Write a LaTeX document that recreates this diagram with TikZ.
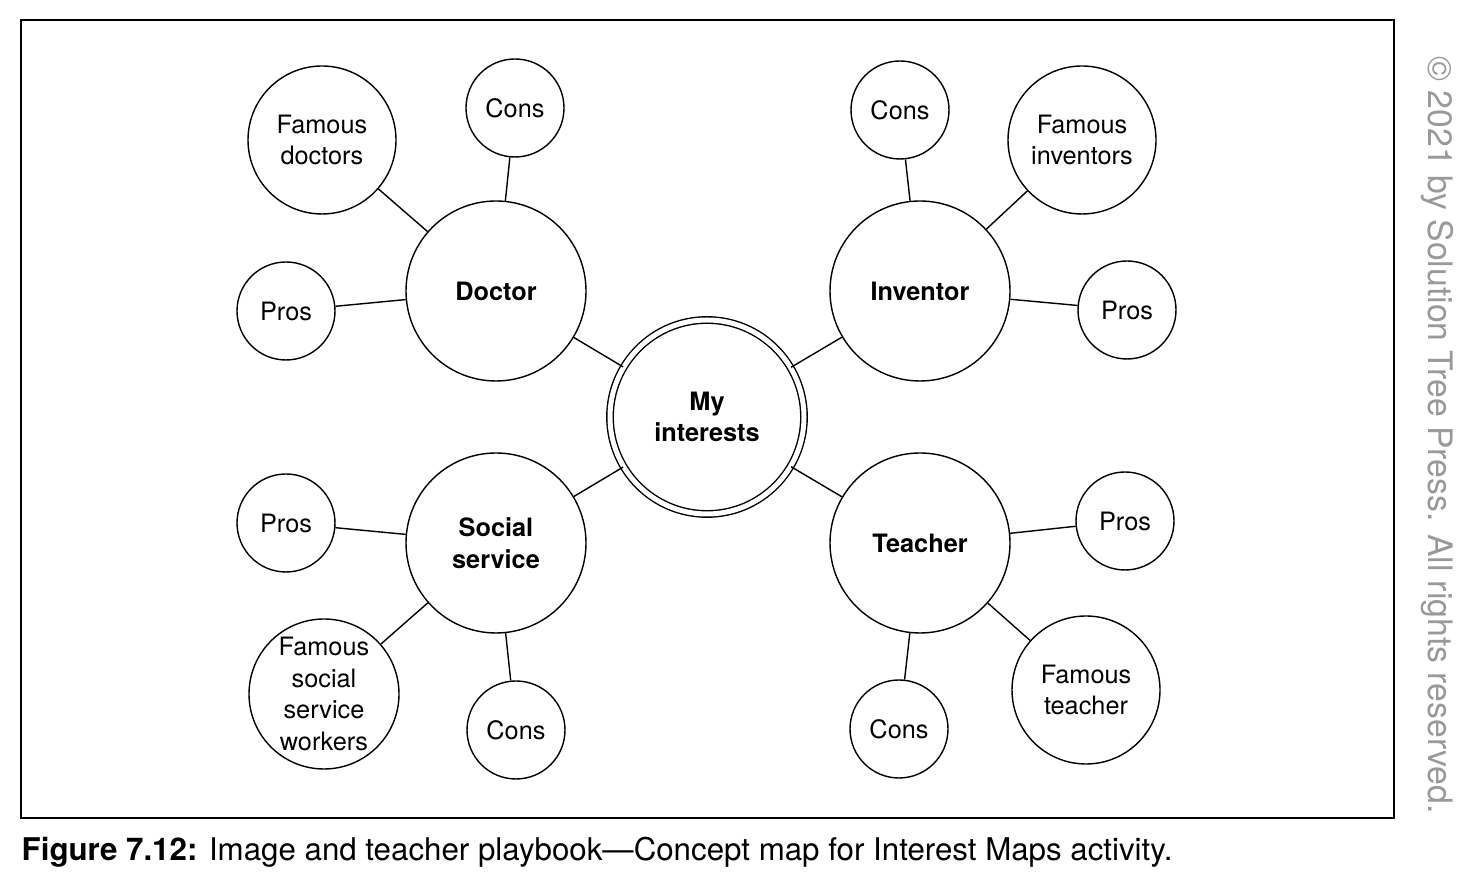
\documentclass[tikz,border=0pt]{standalone}
\usepackage{fontspec}
\setmainfont{TeX Gyre Heros}
\begin{document}
\begin{tikzpicture}[x=0.1mm,y=-0.1mm,
        topic/.style={circle, draw, minimum size=18mm, inner sep=0pt, align=center, font=\fontsize{7.2}{9}\selectfont\bfseries},
        leaf/.style={circle, draw, minimum size=9.8mm, inner sep=0pt, align=center, font=\fontsize{7.2}{9}\selectfont},
        famous/.style={leaf, minimum size=14.8mm}]
        \useasboundingbox (0,0) rectangle (1471,881);
        \draw (21,20) rectangle (1394,818);

        \node[circle, draw, double, double distance=0.5mm, minimum size=19.4mm, inner sep=0pt, align=center, font=\fontsize{7.2}{9}\selectfont\bfseries] (me) at (707,417) {My\\interests};

        \node[topic] (doc) at (496,291) {Doctor};
        \node[topic] (inv) at (920,291) {Inventor};
        \node[topic] (soc) at (496,543) {Social\\service};
        \node[topic] (tea) at (920,543) {Teacher};

        \node[famous] (docfam) at (322,140) {Famous\\doctors};
        \node[leaf] (doccon) at (515,108) {Cons};
        \node[leaf] (docpro) at (286,311) {Pros};

        \node[leaf] (invcon) at (900,110) {Cons};
        \node[famous] (invfam) at (1082,140) {Famous\\inventors};
        \node[leaf] (invpro) at (1127,310) {Pros};

        \node[leaf] (socpro) at (286,523) {Pros};
        \node[famous, minimum size=15mm] (socfam) at (324,694) {Famous\\social\\service\\workers};
        \node[leaf] (soccon) at (516,730) {Cons};

        \node[leaf] (teapro) at (1125,521) {Pros};
        \node[famous] (teafam) at (1086,690) {Famous\\teacher};
        \node[leaf] (teacon) at (899,729) {Cons};

        % spokes
        \foreach \t in {doc,inv,soc,tea}
            \draw (me) -- (\t);
        \foreach \t in {doc,inv,soc,tea} {
            \draw (\t) -- (\t fam);
            \draw (\t) -- (\t con);
            \draw (\t) -- (\t pro);
        }

        \node[anchor=south west, inner sep=0pt, font=\fontsize{8.9}{10}\selectfont] (cap) at (21,868)
            {\textbf{Figure 7.12:} Image and teacher playbook---Concept map for Interest Maps activity.};
        \node[rotate=-90, text=black!40, inner sep=0pt, font=\fontsize{9.6}{11}\selectfont] (copy) at (1437,435)
            {\textcopyright\ 2021 by Solution Tree Press. All rights reserved.};
\end{tikzpicture}
\end{document}
